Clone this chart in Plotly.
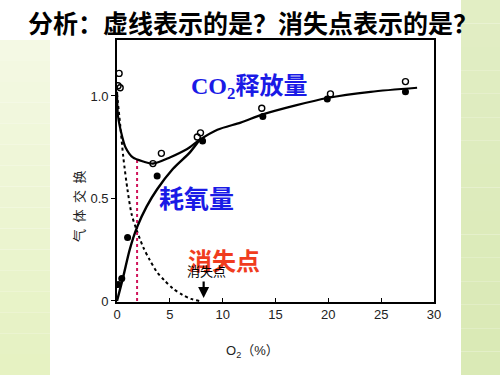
import plotly.graph_objects as go

# ---------------- data ----------------
co2_curve_x = [0, 0.1, 0.5, 0.8, 1.5, 2.5, 3.4, 5.0, 6.6, 7.8, 9.5, 11.7, 13.8, 17.0, 19.9, 24.0, 28.4]
co2_curve_y = [1.02, 0.90, 0.80, 0.75, 0.70, 0.68, 0.67, 0.70, 0.74, 0.785, 0.835, 0.87, 0.91, 0.955, 0.99, 1.02, 1.04]

o2_curve_x = [0, 0.6, 1.2, 1.9, 2.8, 3.8, 5.3, 6.9, 7.8]
o2_curve_y = [0, 0.12, 0.25, 0.36, 0.46, 0.545, 0.645, 0.725, 0.785]

anaerobic_x = [0, 0.3, 0.6, 1.0, 1.4, 1.9, 2.5, 3.1, 3.8, 4.5, 5.3, 6.2, 7.0, 7.8]
anaerobic_y = [1.01, 0.86, 0.70, 0.54, 0.42, 0.34, 0.26, 0.20, 0.14, 0.10, 0.06, 0.03, 0.01, 0.0]

co2_open_x = [0.2, 0.1, 0.3, 3.4, 4.2, 7.6, 7.9, 13.7, 20.2, 27.3]
co2_open_y = [1.11, 1.05, 1.04, 0.67, 0.72, 0.80, 0.82, 0.94, 1.01, 1.07]

o2_dot_x = [0.1, 0.45, 1.0, 3.8, 8.1, 13.8, 19.9, 27.3]
o2_dot_y = [0.08, 0.11, 0.31, 0.61, 0.78, 0.90, 0.985, 1.02]

marker_line_x = [1.9, 1.9]
marker_line_y = [0, 0.70]

vanish_x = 8.2

x_ticks = [0, 5, 10, 15, 20, 25, 30]
x_tick_labels = ["0", "5", "10", "15", "20", "25", "30"]
y_ticks = [0, 0.5, 1.0]
y_tick_labels = ["0", "0.5", "1.0"]

title_text = "<b>分析：虚线表示的是？消失点表示的是？</b>"
y_title = "气\u2002体\u2002交\u2002换"
x_title = "O<sub>2</sub>（%）"
label_co2 = "<b>CO<sub>2</sub>释放量</b>"
label_o2 = "<b>耗氧量</b>"
label_vanish_big = "<b>消失点</b>"
label_vanish_small = "消失点"

# ---------------- layout geometry ----------------
W, H = 500, 375
PL, PR, PT, PB = 117, 434, 40, 302  # plot area pixels


def px(p):
    return (p - PL) / (PR - PL)


def py(q):
    return (PB - q) / (PB - PT)


fig = go.Figure()

fig.add_trace(go.Scatter(x=anaerobic_x, y=anaerobic_y, mode="lines",
                         line=dict(color="black", width=2, dash="dot", shape="spline", smoothing=0.8),
                         hoverinfo="skip", showlegend=False))
fig.add_trace(go.Scatter(x=marker_line_x, y=marker_line_y, mode="lines",
                         line=dict(color="#d0145a", width=2, dash="dot"),
                         hoverinfo="skip", showlegend=False))
fig.add_trace(go.Scatter(x=co2_curve_x, y=co2_curve_y, mode="lines",
                         line=dict(color="black", width=2.2, shape="spline", smoothing=0.8),
                         showlegend=False))
fig.add_trace(go.Scatter(x=o2_curve_x, y=o2_curve_y, mode="lines",
                         line=dict(color="black", width=2.4, shape="spline", smoothing=0.8),
                         showlegend=False))
fig.add_trace(go.Scatter(x=co2_open_x, y=co2_open_y, mode="markers",
                         marker=dict(symbol="circle-open", size=6, color="black", line=dict(width=1.4)),
                         showlegend=False))
fig.add_trace(go.Scatter(x=o2_dot_x, y=o2_dot_y, mode="markers",
                         marker=dict(symbol="circle", size=7, color="black"),
                         showlegend=False))

# background: white slide with green side bands (gradient approximated by bands)
shapes = []
n = 16
for i in range(n):
    t = i / (n - 1)
    y0 = 40 + (H - 40) * i / n
    y1 = 40 + (H - 40) * (i + 1) / n
    c_left = (int(244 - 14 * t), int(249 - 7 * t), int(228 - 34 * t))
    shapes.append(dict(type="rect", xref="paper", yref="paper", layer="below",
                       x0=px(0), x1=px(50), y0=py(y1), y1=py(y0),
                       fillcolor="rgb(%d,%d,%d)" % c_left, line=dict(width=0)))
for i in range(n):
    t = i / (n - 1)
    y0 = H * i / n
    y1 = H * (i + 1) / n
    c_right = (int(226 - 8 * t), int(238 - 4 * t), int(196 - 14 * t))
    shapes.append(dict(type="rect", xref="paper", yref="paper", layer="below",
                       x0=px(461), x1=px(W), y0=py(y1), y1=py(y0),
                       fillcolor="rgb(%d,%d,%d)" % c_right, line=dict(width=0)))

cjk = "Noto Sans CJK SC"
annotations = [
    dict(text=title_text, x=px(26), y=py(22), xref="paper", yref="paper",
         xanchor="left", yanchor="middle", showarrow=False,
         font=dict(family=cjk, size=25, color="black")),
    dict(text=y_title, x=px(78), y=py(206), xref="paper", yref="paper",
         xanchor="center", yanchor="middle", showarrow=False, textangle=-90,
         font=dict(family=cjk, size=13, color="#222")),
    dict(text=x_title, x=px(252), y=py(351), xref="paper", yref="paper",
         xanchor="center", yanchor="middle", showarrow=False,
         font=dict(family="Liberation Sans, " + cjk, size=13, color="#222")),
    dict(text=label_co2, x=px(189), y=py(88), xref="paper", yref="paper",
         xanchor="left", yanchor="middle", showarrow=False,
         font=dict(family="Liberation Serif, " + cjk, size=24, color="#1a1ae6")),
    dict(text=label_o2, x=px(196), y=py(197), xref="paper", yref="paper",
         xanchor="center", yanchor="middle", showarrow=False,
         font=dict(family=cjk, size=25, color="#1a1ae6")),
    dict(text=label_vanish_big, x=px(224), y=py(259), xref="paper", yref="paper",
         xanchor="center", yanchor="middle", showarrow=False,
         font=dict(family=cjk, size=24, color="#f03c1e")),
    dict(text=label_vanish_small, x=px(206), y=py(270), xref="paper", yref="paper",
         xanchor="center", yanchor="middle", showarrow=False,
         font=dict(family=cjk, size=13, color="black")),
    dict(text="", x=vanish_x, y=0.015, xref="x", yref="y", showarrow=True,
         ax=0, ay=-18, axref="pixel", ayref="pixel",
         arrowhead=2, arrowsize=1, arrowwidth=2.2, arrowcolor="black", standoff=0),
]

fig.update_layout(
    width=W, height=H,
    margin=dict(l=PL, r=W - PR, t=PT, b=H - PB, pad=0),
    paper_bgcolor="white", plot_bgcolor="white",
    shapes=shapes, annotations=annotations,
    showlegend=False,
    xaxis=dict(range=[0, 30], tickvals=x_ticks, ticktext=x_tick_labels,
               showline=True, linecolor="black", linewidth=1.6, mirror=True,
               ticks="inside", ticklen=4, tickcolor="black", tickwidth=1.2,
               showgrid=False, zeroline=False,
               tickfont=dict(family="Liberation Sans", size=13, color="#222")),
    yaxis=dict(range=[-0.005, 1.273], tickvals=y_ticks, ticktext=y_tick_labels,
               showline=True, linecolor="black", linewidth=1.6, mirror=True,
               ticks="outside", ticklen=4, tickcolor="black", tickwidth=1.2,
               showgrid=False, zeroline=False,
               tickfont=dict(family="Liberation Sans", size=13, color="#222")),
)

fig.write_html("out.html", config={"displayModeBar": False},
               post_script="document.body.style.margin='0';")
